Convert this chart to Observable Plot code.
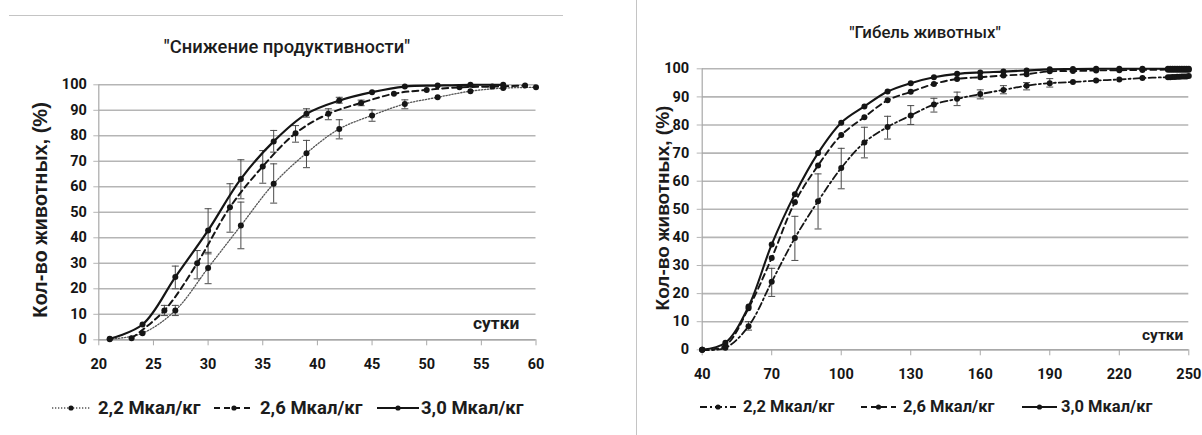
<!DOCTYPE html>
<html><head><meta charset="utf-8">
<script src="https://cdn.jsdelivr.net/npm/d3@7"></script>
<script src="https://cdn.jsdelivr.net/npm/@observablehq/plot@0.6"></script>
<style>
body{margin:0;background:#fff;}
#wrap{position:relative;width:1202px;height:435px;overflow:hidden;background:#fff;font-family:Roboto,"Open Sans",sans-serif;color:#1c1c1c;}
.abs{position:absolute;white-space:nowrap;}
.title{font-weight:500;text-align:center;line-height:20px;}
.ylab{font-family:"Liberation Sans",Arial,sans-serif;font-weight:700;transform:translate(-50%,-50%) rotate(-90deg);line-height:1;}
.leg{font-weight:700;line-height:20px;}
.sw{position:absolute;overflow:visible;}
</style></head><body><div id="wrap"></div>
<script>
// ---------- Left chart: "Снижение продуктивности" ----------
const leftTitle = "\"Снижение продуктивности\"";
const leftXTicks = [20, 25, 30, 35, 40, 45, 50, 55, 60];
const yTicks = [0, 10, 20, 30, 40, 50, 60, 70, 80, 90, 100];
const seriesNames = ["2,2 Мкал/кг", "2,6 Мкал/кг", "3,0 Мкал/кг"];

const leftDays30 = [21, 24, 27, 30, 33, 36, 39, 42, 45, 48, 51, 54, 57];
const left30 = [0.4, 6.0, 24.6, 42.9, 63.1, 77.8, 88.6, 93.8, 97.1, 99.3, 99.7, 100, 100];
const leftDays26 = [23, 26, 29, 32, 35, 38, 41, 44, 47, 50, 53, 56, 59];
const left26 = [0.6, 11.5, 30, 52, 68, 81, 88.6, 92.9, 96.5, 98, 99, 99.3, 99.7];
const leftDays22 = [21, 24, 27, 30, 33, 36, 39, 42, 45, 48, 51, 54, 57, 60];
const left22 = [0.2, 2.6, 11.5, 28.2, 44.8, 61.2, 73.2, 82.7, 88, 92.5, 95.1, 97.5, 98.7, 99];

const leftErr30Days = [27, 30, 33, 36, 39, 42];
const leftErr30Lo = [20, 33.7, 55.3, 73.6, 87.3, 92.8];
const leftErr30Hi = [28.9, 51.4, 70.6, 82.1, 90.6, 95.1];
const leftErr26Days = [26, 29, 32, 35, 38, 41, 44];
const leftErr26Lo = [9.5, 23.9, 42.2, 61.4, 77.5, 86.3, 91.8];
const leftErr26Hi = [13.5, 35, 61.2, 74.2, 84, 90.6, 94];
const leftErr22Days = [27, 30, 33, 36, 39, 42, 45, 48];
const leftErr22Lo = [9.5, 22, 35.7, 53.6, 67.5, 78.8, 85.7, 90.6];
const leftErr22Hi = [13.5, 34.3, 54, 69, 78.2, 86.3, 90.2, 94.1];

// ---------- Right chart: "Гибель животных" ----------
const rightTitle = "\"Гибель животных\"";
const rightXTicks = [40, 70, 100, 130, 160, 190, 220, 250];
const rightDays = [40, 50, 60, 70, 80, 90, 100, 110, 120, 130, 140, 150, 160, 170, 180, 190, 200, 210, 220, 230, 241, 242, 243, 244, 245, 246, 247, 248, 249, 250];
const right30 = [0, 2.5, 15.4, 37.5, 55.4, 70, 80.8, 86.6, 91.9, 94.9, 97, 98.2, 98.7, 99, 99.4, 99.8, 99.9, 100, 100, 100, 100, 100, 100, 100, 100, 100, 100, 100, 100, 100];
const right26 = [0, 1.5, 14.8, 32.7, 52.5, 65.6, 76.4, 82.8, 88.8, 91.8, 94.6, 96.4, 97, 97.6, 98.1, 99.1, 99.2, 99.4, 99.5, 99.6, 99.7, 99.7, 99.7, 99.7, 99.7, 99.7, 99.7, 99.7, 99.7, 99.7];
const right22 = [0, 0.7, 8.4, 24.2, 39.8, 52.9, 64.7, 73.8, 79.3, 83.4, 87.3, 89.3, 91, 92.5, 94, 94.9, 95.3, 95.8, 96.2, 96.7, 97, 97, 97.1, 97.1, 97.2, 97.2, 97.3, 97.3, 97.3, 97.4];
const rightErr22Days = [60, 70, 80, 90, 100, 110, 120, 130, 140, 150, 160, 170, 180, 190];
const rightErr22Lo = [7, 19, 31.8, 43, 57.3, 68.3, 75, 80.2, 84.6, 86.9, 89.3, 91.1, 92.5, 93.5];
const rightErr22Hi = [10, 29, 47.5, 62.6, 71.7, 79.2, 83.1, 86.9, 89.5, 91.7, 92.5, 94, 95.1, 96.5];

// ---------- helpers ----------
const rows = (days, vals) => days.map((d, i) => ({d, v: vals[i]}));
const errRows = (days, lo, hi) => days.map((d, i) => ({d, lo: lo[i], hi: hi[i]}));
const capSymbol = {draw(ctx, size) { const r = Math.sqrt(size / Math.PI); ctx.moveTo(-r, 0); ctx.lineTo(r, 0); }};
const GRID = "#b5b5b5", AXIS = "#a8a8a8", INK = "#151515", ERR = "#4a4a4a";

function chart(o) {
  const marks = [
    Plot.gridY(yTicks, {stroke: GRID, strokeOpacity: 1, strokeWidth: 1.6}),
    Plot.ruleX([o.xDomain[0]], {stroke: AXIS, strokeWidth: 1.2}),
    Plot.ruleY([0], {stroke: AXIS, strokeWidth: 1.4}),
    Plot.axisY({ticks: yTicks, tickSize: 5, tickPadding: o.yPad, stroke: GRID, fill: INK, fontSize: 14.5, fontWeight: "bold", label: null}),
    Plot.axisX({ticks: o.xTicks, tickSize: 6, tickPadding: 13, stroke: AXIS, fill: INK, fontSize: 14.5, fontWeight: "bold", label: null})
  ];
  for (const e of o.errs) {
    marks.push(Plot.ruleX(e, {x: "d", y1: "lo", y2: "hi", stroke: ERR, strokeWidth: 1}));
    marks.push(Plot.dot(e, {x: "d", y: "lo", symbol: capSymbol, r: 3.5, stroke: ERR, fill: "none", strokeWidth: 1}));
    marks.push(Plot.dot(e, {x: "d", y: "hi", symbol: capSymbol, r: 3.5, stroke: ERR, fill: "none", strokeWidth: 1}));
  }
  for (const s of o.series) {
    marks.push(Plot.line(s.data, {x: "d", y: "v", curve: "catmull-rom", stroke: s.color, strokeWidth: s.width, strokeDasharray: s.dash}));
  }
  for (const s of o.series) {
    marks.push(Plot.dot(s.data, {x: "d", y: "v", r: 3, fill: INK, stroke: "none"}));
  }
  return Plot.plot({
    width: o.width, height: 435,
    marginLeft: o.ml, marginRight: o.mr, marginTop: o.mt, marginBottom: o.mb,
    x: {domain: o.xDomain, label: null},
    y: {domain: [0, 100], label: null},
    style: {fontFamily: "Roboto, 'Open Sans', sans-serif", background: "transparent", overflow: "visible", color: INK},
    marks
  });
}

const wrap = document.getElementById("wrap");
function place(el, css) { el.classList.add("abs"); Object.assign(el.style, css); wrap.appendChild(el); return el; }
function textDiv(txt, cls, css) { const d = document.createElement("div"); d.className = cls; d.textContent = txt; return place(d, css); }
function swatch(x, y, w, dash, width, color) {
  const ns = "http://www.w3.org/2000/svg";
  const s = document.createElementNS(ns, "svg");
  s.setAttribute("width", w); s.setAttribute("height", 12);
  s.setAttribute("class", "sw");
  Object.assign(s.style, {left: x + "px", top: (y - 6) + "px"});
  const l = document.createElementNS(ns, "line");
  l.setAttribute("x1", 0); l.setAttribute("x2", w); l.setAttribute("y1", 6); l.setAttribute("y2", 6);
  l.setAttribute("stroke", color); l.setAttribute("stroke-width", width);
  if (dash) l.setAttribute("stroke-dasharray", dash);
  const c = document.createElementNS(ns, "circle");
  c.setAttribute("cx", w / 2); c.setAttribute("cy", 6); c.setAttribute("r", 2.6); c.setAttribute("fill", INK);
  s.appendChild(l); s.appendChild(c);
  wrap.appendChild(s);
}

// separators
const topLine = document.createElement("div");
place(topLine, {left: "9px", top: "15px", width: "554px", height: "0", borderTop: "1.5px solid #c4c4c4"});
const vLine = document.createElement("div");
place(vLine, {left: "636px", top: "0px", width: "0", height: "435px", borderLeft: "1.5px solid #c4c4c4"});

// left chart
const leftStyles = [
  {dash: "1.3 1.7", width: 1.3, color: "#555"},
  {dash: "6 4", width: 2, color: INK},
  {dash: null, width: 2.2, color: INK}
];
const L = chart({
  width: 600, ml: 98.3, mr: 64.5, mt: 84.3, mb: 95.7, yPad: 7,
  xDomain: [20, 60], xTicks: leftXTicks,
  errs: [errRows(leftErr22Days, leftErr22Lo, leftErr22Hi), errRows(leftErr26Days, leftErr26Lo, leftErr26Hi), errRows(leftErr30Days, leftErr30Lo, leftErr30Hi)],
  series: [
    {data: rows(leftDays22, left22), ...leftStyles[0]},
    {data: rows(leftDays26, left26), ...leftStyles[1]},
    {data: rows(leftDays30, left30), ...leftStyles[2]}
  ]
});
place(L, {left: "0px", top: "0px"});

// right chart
const rightStyles = [
  {dash: "7 3 2 3", width: 1.8, color: INK},
  {dash: "6 4", width: 1.9, color: INK},
  {dash: null, width: 2.1, color: INK}
];
const R = chart({
  width: 601, ml: 100.7, mr: 13.7, mt: 68.3, mb: 85.7, yPad: 8,
  xDomain: [40, 250], xTicks: rightXTicks,
  errs: [errRows(rightErr22Days, rightErr22Lo, rightErr22Hi)],
  series: [
    {data: rows(rightDays, right22), ...rightStyles[0]},
    {data: rows(rightDays, right26), ...rightStyles[1]},
    {data: rows(rightDays, right30), ...rightStyles[2]}
  ]
});
place(R, {left: "601px", top: "0px"});

// titles
textDiv(leftTitle, "title", {left: "87px", width: "400px", top: "37px", fontSize: "18.4px"});
textDiv(rightTitle, "title", {left: "725px", width: "400px", top: "22px", fontSize: "16.8px"});

// y labels
textDiv("Кол-во животных, (%)", "ylab", {left: "40px", top: "210px", fontSize: "20px"});
textDiv("Кол-во животных, (%)", "ylab", {left: "662px", top: "208px", fontSize: "19px"});

// "сутки"
textDiv("сутки", "leg", {left: "473px", top: "313px", fontSize: "17.4px"});
textDiv("сутки", "leg", {left: "1142px", top: "325px", fontSize: "15.5px"});

// legends
const leftLeg = [{sx: 52, sw: 38, tx: 98}, {sx: 214, sw: 40, tx: 260}, {sx: 377, sw: 42, tx: 421}];
leftLeg.forEach((p, i) => {
  const st = leftStyles[i];
  swatch(p.sx, 408, p.sw, st.dash, st.width, st.color);
  textDiv(seriesNames[i], "leg", {left: p.tx + "px", top: "398px", fontSize: "18.5px"});
});
const rightLeg = [{sx: 700, sw: 36, tx: 743}, {sx: 861, sw: 35, tx: 903}, {sx: 1022, sw: 35, tx: 1061}];
rightLeg.forEach((p, i) => {
  const st = rightStyles[i];
  swatch(p.sx, 407, p.sw, st.dash, st.width, st.color);
  textDiv(seriesNames[i], "leg", {left: p.tx + "px", top: "397px", fontSize: "16.5px"});
});
</script></body></html>
